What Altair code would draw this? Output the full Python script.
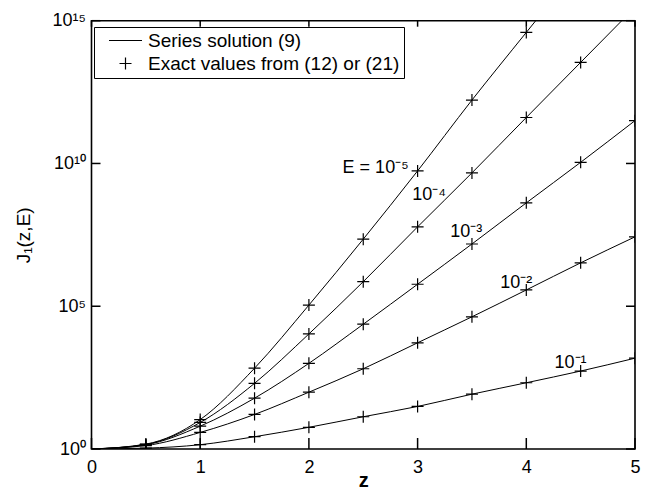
import altair as alt
import pandas as pd

FONT = "Liberation Sans"
W, H = 543.5, 428.3

# z positions of the computed values
z_vals = [0, 0.5, 1, 1.5, 2, 2.5, 3, 3.5, 4, 4.5, 5]

# log10 of J1(z,E), one list per E
E_names = ["1e-5", "1e-4", "1e-3", "1e-2", "1e-1"]
log10_J_E1e5 = [0, 0.17, 1.03, 2.83, 5.04, 7.35, 9.74, 12.22, 14.59, 16.95, 19.3]
log10_J_E1e4 = [0, 0.16, 0.93, 2.30, 4.03, 5.86, 7.78, 9.67, 11.61, 13.54, 15.47]
log10_J_E1e3 = [0, 0.15, 0.80, 1.78, 3.00, 4.37, 5.77, 7.18, 8.62, 10.04, 11.50]
log10_J_E1e2 = [0, 0.12, 0.58, 1.21, 1.99, 2.81, 3.72, 4.63, 5.57, 6.52, 7.43]
log10_J_E1e1 = [0, 0.03, 0.15, 0.43, 0.76, 1.13, 1.49, 1.92, 2.32, 2.73, 3.18]

SERIES = "Series solution (9)"
EXACT = "Exact values from (12) or (21)"

# curve labels
label_text = ["E = 10⁻⁵", "10⁻⁴", "10⁻³", "10⁻²", "10⁻¹"]
label_z = [2.31, 2.95, 3.30, 3.76, 4.26]
label_log = [9.68, 8.72, 7.42, 5.64, 2.84]

# axis ticks
x_ticks = [0, 1, 2, 3, 4, 5]
y_ticks = [1, 1e5, 1e10, 1e15]
y_tick_labels = ["10⁰", "10⁵", "10¹⁰", "10¹⁵"]

rows = []
for name, logs in zip(E_names, [log10_J_E1e5, log10_J_E1e4, log10_J_E1e3,
                                log10_J_E1e2, log10_J_E1e1]):
    for z, lg in zip(z_vals, logs):
        rows.append({"z": z, "J": 10 ** lg, "E": name, "kind": EXACT})
df = pd.DataFrame(rows)
marker_df = df[df["z"] > 0]

lab_df = pd.DataFrame({"z": label_z, "J": [10 ** v for v in label_log],
                       "text": label_text})
xt_df = pd.DataFrame({"z": x_ticks})
yt_df = pd.DataFrame({"J": y_ticks})

xscale = alt.Scale(domain=[0, 5], nice=False)
yscale = alt.Scale(type="log", domain=[1, 1e15], nice=False)

label_expr = "[" + ",".join("'%s'" % s for s in y_tick_labels) + "][round(log(datum.value)/LN10/5)]"

common_axis = dict(domain=False, grid=False, ticks=False, tickSize=0,
                   labelFont=FONT, labelFontSize=18, labelColor="black",
                   titleFont=FONT, titleFontSize=19, titleColor="black",
                   titleFontWeight="normal", labelFlush=False, labelOverlap=False)

XAXIS = alt.Axis(orient="bottom", values=x_ticks, labelPadding=9, title="z", titleY=37,
                 titleBaseline="alphabetic",
                 **dict(common_axis, titleFontSize=20, titleFontWeight="bold"))
YAXIS = alt.Axis(orient="left", values=y_ticks, labelPadding=6, labelExpr=label_expr,
                 title="J₁(z,E)", titlePadding=19, **common_axis)


def X():
    return alt.X("z:Q", scale=xscale, axis=XAXIS)


def Y():
    return alt.Y("J:Q", scale=yscale, axis=YAXIS)


lines = alt.Chart(df).mark_line(color="black", strokeWidth=1, interpolate="monotone",
                                clip=True).encode(x=X(), y=Y(), detail="E:N")

points = alt.Chart(marker_df).mark_point(filled=False, color="black", strokeWidth=1.2,
                                         size=144, opacity=1, clip=True).encode(
    x=X(), y=Y(),
    shape=alt.Shape("kind:N",
                    scale=alt.Scale(domain=[SERIES, EXACT],
                                    range=["M-2.75,0L2.75,0", "M-1,0L1,0M0,-1L0,1"]),
                    legend=alt.Legend(title=None, orient="none", legendX=2.5, legendY=6.3,
                                      padding=4, rowPadding=3, symbolSize=144,
                                      symbolStrokeWidth=1.2, symbolStrokeColor="black",
                                      symbolFillColor="transparent", symbolOffset=18,
                                      labelOffset=13, labelLimit=500, labelFont=FONT,
                                      labelFontSize=19, labelColor="black",
                                      strokeColor="black", fillColor="white",
                                      cornerRadius=0)),
)

texts = alt.Chart(lab_df).mark_text(font=FONT, fontSize=18, color="black", align="left",
                                    baseline="alphabetic").encode(
    x=X(), y=Y(), text="text:N",
)

# inward-pointing tick marks on all four sides
tick_style = dict(color="black", strokeWidth=1.5, opacity=1)
bottom_ticks = alt.Chart(xt_df).mark_rule(**tick_style).encode(
    x=X(), y=alt.value(H), y2=alt.value(H - 11))
top_ticks = alt.Chart(xt_df).mark_rule(**tick_style).encode(
    x=X(), y=alt.value(0), y2=alt.value(6))
left_ticks = alt.Chart(yt_df).mark_rule(**tick_style).encode(
    y=Y(), x=alt.value(0), x2=alt.value(9))
right_ticks = alt.Chart(yt_df).mark_rule(**tick_style).encode(
    y=Y(), x=alt.value(W), x2=alt.value(W - 9))

chart = alt.layer(lines, points, texts, bottom_ticks, top_ticks, left_ticks,
                  right_ticks).properties(
    width=W, height=H, background="white",
    autosize=alt.AutoSizeParams(type="none"),
    padding={"left": 83.5, "top": 12.7, "right": 8, "bottom": 40},
).configure_view(stroke="black", strokeWidth=1.6)

chart.save("out.html", embed_options={"renderer": "svg", "actions": False})
